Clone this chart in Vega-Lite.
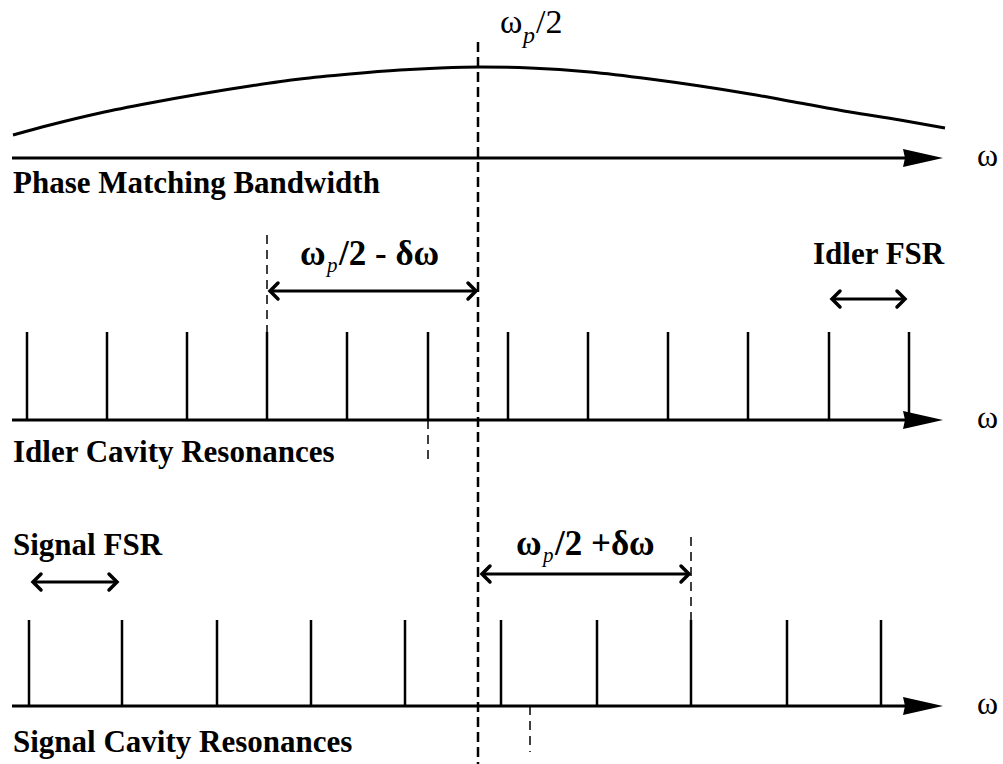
{
  "$schema": "https://vega.github.io/schema/vega-lite/v6.json",
  "width": 1003,
  "height": 764,
  "autosize": "none",
  "padding": 0,
  "background": "white",
  "config": {"view": {"stroke": null}},
  "datasets": {
    "curve": [
      {"f": 13, "v": 135}, {"f": 50, "v": 125}, {"f": 100, "v": 113}, {"f": 150, "v": 103},
      {"f": 200, "v": 94}, {"f": 250, "v": 86}, {"f": 300, "v": 79}, {"f": 350, "v": 74},
      {"f": 400, "v": 70}, {"f": 440, "v": 68}, {"f": 480, "v": 67}, {"f": 530, "v": 68},
      {"f": 590, "v": 72}, {"f": 650, "v": 79}, {"f": 700, "v": 86}, {"f": 750, "v": 94},
      {"f": 800, "v": 103}, {"f": 850, "v": 112}, {"f": 900, "v": 120}, {"f": 945, "v": 128}
    ],
    "axes": [
      {"f": 12, "f2": 910, "v": 158},
      {"f": 12, "f2": 910, "v": 420},
      {"f": 12, "f2": 910, "v": 706}
    ],
    "heads": [
      {"f": 923, "v": 158},
      {"f": 923, "v": 420},
      {"f": 923, "v": 706}
    ],
    "idler": [
      {"f": 27}, {"f": 107}, {"f": 187}, {"f": 267}, {"f": 347}, {"f": 428},
      {"f": 508}, {"f": 588}, {"f": 668}, {"f": 748}, {"f": 829}, {"f": 909}
    ],
    "signal": [
      {"f": 29}, {"f": 122}, {"f": 217}, {"f": 311}, {"f": 405},
      {"f": 501}, {"f": 597}, {"f": 691}, {"f": 787}, {"f": 881}
    ],
    "center": [{"f": 478, "v": 42, "v2": 764}],
    "guides": [
      {"f": 267, "v": 235, "v2": 332},
      {"f": 428, "v": 420, "v2": 465},
      {"f": 691, "v": 537, "v2": 620},
      {"f": 530, "v": 706, "v2": 752}
    ],
    "spans": [
      {"f": 270, "f2": 476, "v": 291},
      {"f": 832, "f2": 905, "v": 299},
      {"f": 33, "f2": 117, "v": 582},
      {"f": 482, "f2": 689, "v": 574}
    ],
    "labels": [
      {"f": 13, "v": 193, "t": "Phase Matching Bandwidth"},
      {"f": 813, "v": 264, "t": "Idler FSR"},
      {"f": 13, "v": 462, "t": "Idler Cavity Resonances"},
      {"f": 13, "v": 555, "t": "Signal FSR"},
      {"f": 13, "v": 752, "t": "Signal Cavity Resonances"}
    ],
    "omegas": [
      {"f": 977, "v": 166, "t": "ω"},
      {"f": 977, "v": 428, "t": "ω"},
      {"f": 977, "v": 714, "t": "ω"}
    ],
    "topomega": [{"f": 500, "v": 33, "t": "ω"}],
    "topsub": [{"f": 523, "v": 43, "t": "p"}],
    "topend": [{"f": 536, "v": 33, "t": "/2"}],
    "boldomega": [
      {"f": 300, "v": 265, "t": "ω"},
      {"f": 516, "v": 555, "t": "ω"}
    ],
    "boldsub": [
      {"f": 327, "v": 272, "t": "p"},
      {"f": 543, "v": 562, "t": "p"}
    ],
    "boldend": [
      {"f": 339, "v": 265, "t": "/2 - δω"},
      {"f": 555, "v": 555, "t": "/2 +δω"}
    ]
  },
  "layer": [
    {
      "data": {"name": "curve"},
      "mark": {"type": "line", "color": "black", "strokeWidth": 3, "interpolate": "monotone"},
      "encoding": {
        "x": {"field": "f", "type": "quantitative", "scale": {"domain": [0, 1003], "nice": false, "zero": false}, "axis": null},
        "y": {"field": "v", "type": "quantitative", "scale": {"domain": [0, 764], "nice": false, "zero": false, "reverse": true}, "axis": null}
      }
    },
    {
      "data": {"name": "axes"},
      "mark": {"type": "rule", "color": "black", "strokeWidth": 3},
      "encoding": {
        "x": {"field": "f", "type": "quantitative"},
        "x2": {"field": "f2"},
        "y": {"field": "v", "type": "quantitative"}
      }
    },
    {
      "data": {"name": "idler"},
      "mark": {"type": "rule", "color": "black", "strokeWidth": 2.5},
      "encoding": {
        "x": {"field": "f", "type": "quantitative"},
        "y": {"datum": 332, "type": "quantitative"},
        "y2": {"datum": 420}
      }
    },
    {
      "data": {"name": "signal"},
      "mark": {"type": "rule", "color": "black", "strokeWidth": 2.5},
      "encoding": {
        "x": {"field": "f", "type": "quantitative"},
        "y": {"datum": 620, "type": "quantitative"},
        "y2": {"datum": 706}
      }
    },
    {
      "data": {"name": "heads"},
      "mark": {"type": "point", "shape": "M -1 -0.45 L 1 0 L -1 0.45 L -0.9 0 Z", "size": 1600, "filled": true, "color": "black", "opacity": 1, "strokeWidth": 0},
      "encoding": {
        "x": {"field": "f", "type": "quantitative"},
        "y": {"field": "v", "type": "quantitative"}
      }
    },
    {
      "data": {"name": "center"},
      "mark": {"type": "rule", "color": "black", "strokeWidth": 2.5, "strokeDash": [10, 5]},
      "encoding": {
        "x": {"field": "f", "type": "quantitative"},
        "y": {"field": "v", "type": "quantitative"},
        "y2": {"field": "v2"}
      }
    },
    {
      "data": {"name": "guides"},
      "mark": {"type": "rule", "color": "black", "strokeWidth": 1.5, "strokeDash": [9, 6]},
      "encoding": {
        "x": {"field": "f", "type": "quantitative"},
        "y": {"field": "v", "type": "quantitative"},
        "y2": {"field": "v2"}
      }
    },
    {
      "data": {"name": "spans"},
      "mark": {"type": "rule", "color": "black", "strokeWidth": 3},
      "encoding": {
        "x": {"field": "f", "type": "quantitative"},
        "x2": {"field": "f2"},
        "y": {"field": "v", "type": "quantitative"}
      }
    },
    {
      "data": {"name": "spans"},
      "mark": {"type": "point", "shape": "M -1 -1 L 0 0 L -1 1", "size": 256, "filled": false, "color": "black", "opacity": 1, "strokeWidth": 3.5, "strokeCap": "round", "strokeJoin": "miter"},
      "encoding": {
        "x": {"field": "f2", "type": "quantitative"},
        "y": {"field": "v", "type": "quantitative"}
      }
    },
    {
      "data": {"name": "spans"},
      "mark": {"type": "point", "shape": "M 1 -1 L 0 0 L 1 1", "size": 256, "filled": false, "color": "black", "opacity": 1, "strokeWidth": 3.5, "strokeCap": "round", "strokeJoin": "miter"},
      "encoding": {
        "x": {"field": "f", "type": "quantitative"},
        "y": {"field": "v", "type": "quantitative"}
      }
    },
    {
      "data": {"name": "labels"},
      "mark": {"type": "text", "font": "Liberation Serif", "fontWeight": "bold", "fontSize": 31, "align": "left", "baseline": "alphabetic", "color": "black"},
      "encoding": {
        "x": {"field": "f", "type": "quantitative"},
        "y": {"field": "v", "type": "quantitative"},
        "text": {"field": "t"}
      }
    },
    {
      "data": {"name": "omegas"},
      "mark": {"type": "text", "font": "Liberation Serif", "fontSize": 32, "align": "left", "baseline": "alphabetic", "color": "black"},
      "encoding": {
        "x": {"field": "f", "type": "quantitative"},
        "y": {"field": "v", "type": "quantitative"},
        "text": {"field": "t"}
      }
    },
    {
      "data": {"name": "topomega"},
      "mark": {"type": "text", "font": "Liberation Serif", "fontSize": 34, "align": "left", "baseline": "alphabetic", "color": "black"},
      "encoding": {
        "x": {"field": "f", "type": "quantitative"},
        "y": {"field": "v", "type": "quantitative"},
        "text": {"field": "t"}
      }
    },
    {
      "data": {"name": "topsub"},
      "mark": {"type": "text", "font": "Liberation Serif", "fontStyle": "italic", "fontSize": 24, "align": "left", "baseline": "alphabetic", "color": "black"},
      "encoding": {
        "x": {"field": "f", "type": "quantitative"},
        "y": {"field": "v", "type": "quantitative"},
        "text": {"field": "t"}
      }
    },
    {
      "data": {"name": "topend"},
      "mark": {"type": "text", "font": "Liberation Serif", "fontSize": 34, "align": "left", "baseline": "alphabetic", "color": "black"},
      "encoding": {
        "x": {"field": "f", "type": "quantitative"},
        "y": {"field": "v", "type": "quantitative"},
        "text": {"field": "t"}
      }
    },
    {
      "data": {"name": "boldomega"},
      "mark": {"type": "text", "font": "Liberation Serif", "fontWeight": "bold", "fontSize": 35, "align": "left", "baseline": "alphabetic", "color": "black"},
      "encoding": {
        "x": {"field": "f", "type": "quantitative"},
        "y": {"field": "v", "type": "quantitative"},
        "text": {"field": "t"}
      }
    },
    {
      "data": {"name": "boldsub"},
      "mark": {"type": "text", "font": "Liberation Serif", "fontStyle": "italic", "fontSize": 21, "align": "left", "baseline": "alphabetic", "color": "black"},
      "encoding": {
        "x": {"field": "f", "type": "quantitative"},
        "y": {"field": "v", "type": "quantitative"},
        "text": {"field": "t"}
      }
    },
    {
      "data": {"name": "boldend"},
      "mark": {"type": "text", "font": "Liberation Serif", "fontWeight": "bold", "fontSize": 35, "align": "left", "baseline": "alphabetic", "color": "black"},
      "encoding": {
        "x": {"field": "f", "type": "quantitative"},
        "y": {"field": "v", "type": "quantitative"},
        "text": {"field": "t"}
      }
    }
  ]
}
